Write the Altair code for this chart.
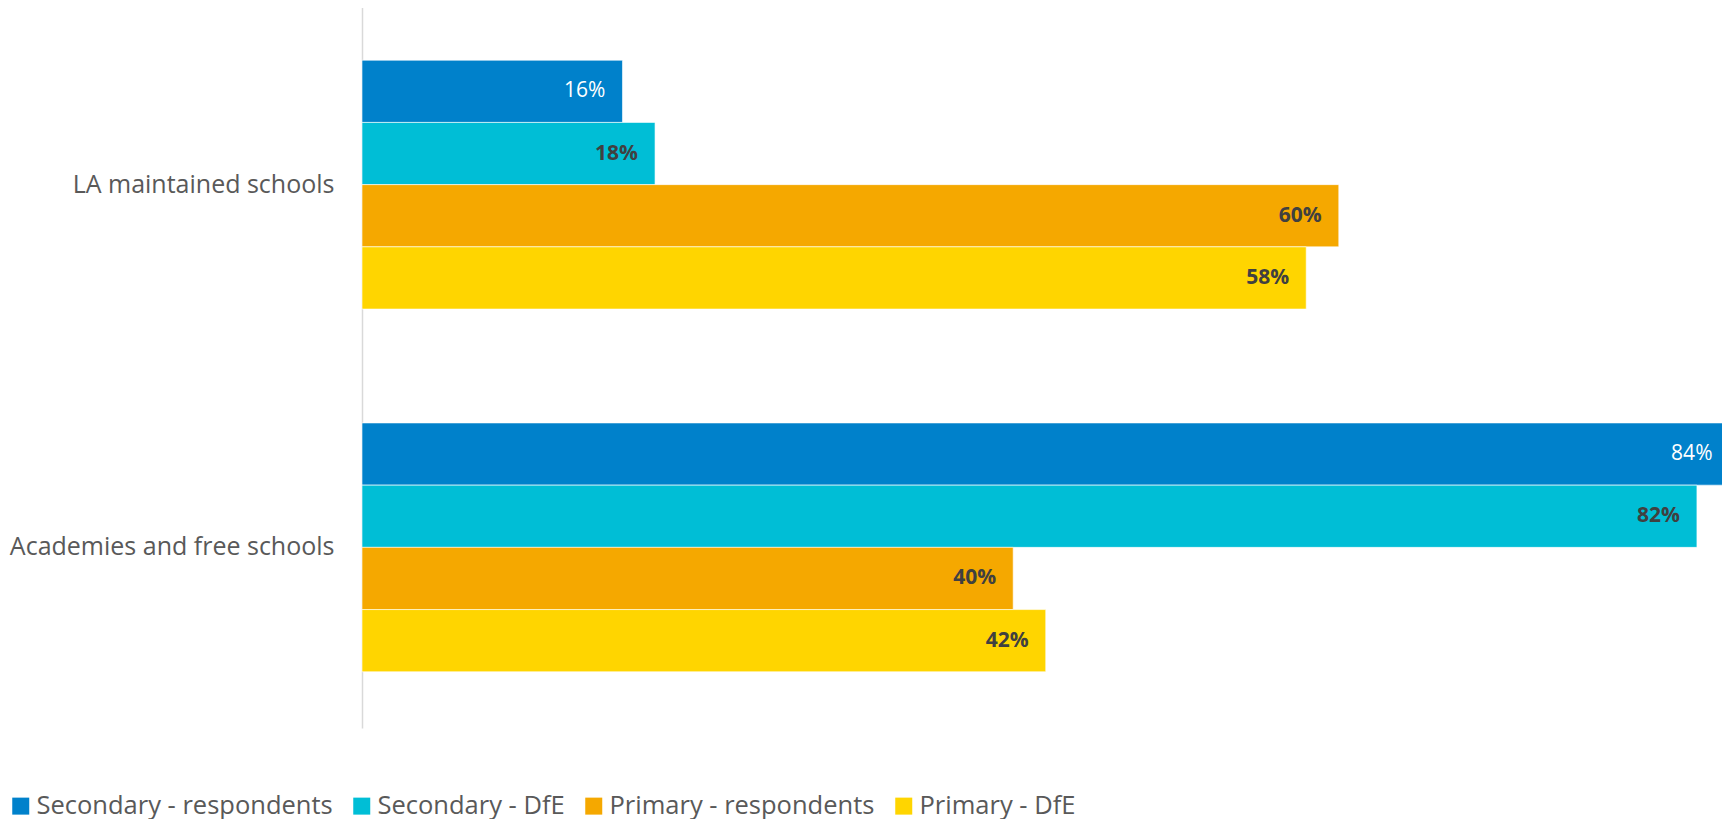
import altair as alt
import pandas as pd

categories = ["LA maintained schools", "Academies and free schools"]
series = ["Secondary - respondents", "Secondary - DfE", "Primary - respondents", "Primary - DfE"]
colors = ["#0081CB", "#00BED6", "#F5A800", "#FFD500"]
values = {
    "Secondary - respondents": [0.16, 0.84],
    "Secondary - DfE": [0.18, 0.82],
    "Primary - respondents": [0.60, 0.40],
    "Primary - DfE": [0.58, 0.42],
}

rows = []
for s in series:
    for c, v in zip(categories, values[s]):
        rows.append({"category": c, "series": s, "value": v})
df = pd.DataFrame(rows)

FONT = "Open Sans"

y_enc = alt.Y("category:N", sort=categories, title=None,
              scale=alt.Scale(paddingInner=0.314, paddingOuter=0.155),
              axis=alt.Axis(domainColor="#D9D9D9", domainWidth=1.5, ticks=False,
                            labelFontSize=25, labelColor="#595959", labelFont=FONT,
                            labelPadding=28, labelLimit=500))
yoff = alt.YOffset("series:N", sort=series, scale=alt.Scale(paddingInner=0, paddingOuter=0))
x_enc = alt.X("value:Q", title=None,
              scale=alt.Scale(domain=[0, 0.8354], nice=False, zero=True),
              axis=None)

base = alt.Chart(df)

bars = base.mark_bar(stroke="white", strokeWidth=0.6).encode(
    x=x_enc, y=y_enc, yOffset=yoff,
    color=alt.Color("series:N", sort=series,
                    scale=alt.Scale(domain=series, range=colors),
                    legend=alt.Legend(title=None, orient="none", direction="horizontal",
                                      legendX=-354, legendY=789, columns=4, padding=0,
                                      symbolType="square", symbolSize=289,
                                      symbolStrokeWidth=0, labelFont=FONT,
                                      labelFontSize=25.5, labelColor="#595959",
                                      labelOffset=3, columnPadding=16,
                                      labelLimit=500)),
)

lab_white = base.transform_filter(alt.datum.series == "Secondary - respondents").mark_text(
    align="right", baseline="middle", dx=-17, font=FONT, fontSize=21,
    color="white", fontWeight="normal"
).encode(x=x_enc, y=y_enc, yOffset=yoff, text=alt.Text("value:Q", format=".0%"))

lab_dark = base.transform_filter(alt.datum.series != "Secondary - respondents").mark_text(
    align="right", baseline="middle", dx=-17, font=FONT, fontSize=21,
    color="#404040", fontWeight="bold"
).encode(x=x_enc, y=y_enc, yOffset=yoff, text=alt.Text("value:Q", format=".0%"))

chart = alt.layer(bars, lab_white, lab_dark).properties(
    width=1360, height=724,
    autosize=alt.AutoSizeParams(type="none"),
    padding={"left": 354, "top": -4, "right": 0, "bottom": 95},
).configure_view(stroke=None)

chart.save("out.html", embed_options={"renderer": "svg", "actions": False})
